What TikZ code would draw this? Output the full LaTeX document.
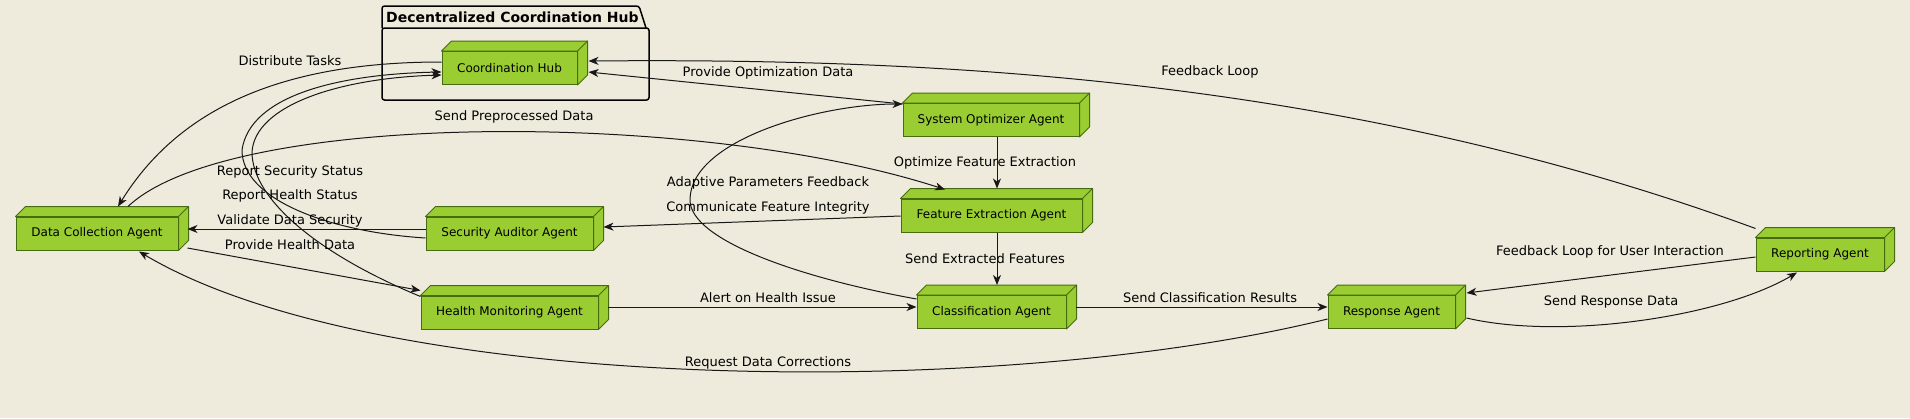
\documentclass[tikz,border=0pt]{standalone}
\usepackage{fontspec}
\setmainfont{DejaVu Sans}
\usetikzlibrary{arrows.meta,calc}
\definecolor{bgc}{HTML}{EEEBDC}
\definecolor{nodegreen}{HTML}{9ACD32}
\definecolor{nodeborder}{HTML}{476B10}
\definecolor{edgec}{HTML}{181818}
\tikzset{
  agent/.style={draw=nodeborder, fill=nodegreen, line width=1pt, minimum height=33pt,
    inner sep=0pt, font=\fontsize{12}{14}\selectfont},
  conn/.style={draw=edgec, line width=1pt, -{Stealth[length=10pt,width=8pt,inset=3pt]}},
  plainconn/.style={draw=edgec, line width=1pt},
  elabel/.style={font=\fontsize{13}{15}\selectfont, inner sep=0pt, text=black},
  pkg/.style={draw=black, line width=1.5pt, rounded corners=2.5pt}
}
\newcommand{\extrude}[1]{%
  \draw[draw=nodeborder, fill=nodegreen, line width=1pt, line join=round]
    (#1.north west) -- ++(10,-10) -- ([shift={(10,-10)}]#1.north east)
    -- ([shift={(10,-10)}]#1.south east) -- (#1.south east) -- (#1.north east) -- cycle;
  \draw[draw=nodeborder, line width=1pt] (#1.north east) -- ++(10,-10);
}
\begin{document}
\begin{tikzpicture}[x=1pt,y=-1pt]
\useasboundingbox (0,0) rectangle (1910,418);
\fill[bgc] (0,0) rectangle (1910,418);

% package
\draw[pkg] (382,28) -- (382,6) -- (639,6) -- (646,28);
\draw[pkg] (382,28) rectangle (649,100);
\node[anchor=west, font=\fontsize{14}{16}\selectfont\bfseries, inner sep=0pt] (pkgtitle) at (386,17) {Decentralized Coordination Hub};

% nodes
\node[agent, minimum width=135pt] (ch)  at (509.5,68)   {Coordination Hub};
\node[agent, minimum width=162pt] (dca) at (97,233.5)   {Data Collection Agent};
\node[agent, minimum width=167pt] (saa) at (509.5,233.5) {Security Auditor Agent};
\node[agent, minimum width=177pt] (hma) at (509.5,312.5) {Health Monitoring Agent};
\node[agent, minimum width=176pt] (soa) at (991,120)    {System Optimizer Agent};
\node[agent, minimum width=181pt] (fea) at (991.5,215.5) {Feature Extraction Agent};
\node[agent, minimum width=149pt] (ca)  at (991.5,312)  {Classification Agent};
\node[agent, minimum width=127pt] (ra)  at (1391.5,312) {Response Agent};
\node[agent, minimum width=128pt] (rpa) at (1820,254.5) {Reporting Agent};
\foreach \n in {ch,dca,saa,hma,soa,fea,ca,ra,rpa} {\extrude{\n}}

% connectors
\draw[conn] ([shift={(0,-6)}]ch.west) .. controls (300,62) and (185,98) .. ([shift={(21,-10)}]dca.north);
\draw[conn] ([shift={(31,-10)}]dca.north) .. controls (230,110) and (700,110) .. ([shift={(-46.5,-9)}]fea.north);
\draw[conn] ([shift={(0,4.5)}]saa.west) .. controls (330,232) and (242,200) .. (242,150)
   .. controls (250,95) and (340,74) .. ([shift={(0,4)}]ch.west);
\draw[conn] ([shift={(0,1)}]hma.north west) .. controls (320,255) and (252,200) .. (252,152)
   .. controls (255,105) and (340,78) .. ([shift={(0,7)}]ch.west);
\draw[conn] ([shift={(0,-4.5)}]saa.west) -- ([shift={(9,-4.5)}]dca.east);
\draw[conn] ([shift={(9,14.5)}]dca.east) -- ([shift={(0,-5)}]hma.north west);
\draw[conn] ([shift={(9,-5.5)}]hma.east) -- ([shift={(0,-5)}]ca.west);
\draw[conn] ([shift={(0,-16)}]soa.west) -- ([shift={(11,4)}]ch.east);
\draw[conn] ([shift={(6,0)}]soa.south) -- ([shift={(5.5,-10)}]fea.north);
\draw[conn] ([shift={(0,0.5)}]fea.west) -- ([shift={(10,-6.5)}]saa.east);
\draw[conn] ([shift={(5.5,0)}]fea.south) -- ([shift={(5.5,-10)}]ca.north);
\draw[conn] ([shift={(0,-13)}]ca.west) .. controls (800,278) and (690,240) .. (690,200)
   .. controls (690,140) and (820,104) .. ([shift={(0,-16)}]soa.west);
\draw[conn] ([shift={(9,-5)}]ca.east) -- ([shift={(0,-5)}]ra.west);
\draw[conn] ([shift={(0,7)}]ra.west) .. controls (1000,400) and (380,395) .. ([shift={(42,1)}]dca.south);
\draw[conn] ([shift={(11,6)}]ra.east) .. controls (1560,340) and (1720,318) .. ([shift={(-23,1)}]rpa.south);
\draw[conn] ([shift={(0,2.5)}]rpa.west) -- ([shift={(11,-19)}]ra.east);
\draw[conn] ([shift={(0,-9)}]rpa.north west) .. controls (1350,80) and (950,58) .. ([shift={(11,-7)}]ch.east);

% labels
\node[elabel] (l1) at (290,61) {Distribute Tasks};
\node[elabel] (l2) at (514,117) {Send Preprocessed Data};
\node[elabel] (l3) at (290,172) {Report Security Status};
\node[elabel] (l4) at (290,196) {Report Health Status};
\node[elabel] (l5) at (290,221) {Validate Data Security};
\node[elabel] (l6) at (290,245) {Provide Health Data};
\node[elabel] (l7) at (768,73) {Provide Optimization Data};
\node[elabel] (l8) at (1210,72) {Feedback Loop};
\node[elabel] (l9) at (985,163) {Optimize Feature Extraction};
\node[elabel] (l10) at (768,183) {Adaptive Parameters Feedback};
\node[elabel] (l11) at (768,208) {Communicate Feature Integrity};
\node[elabel] (l12) at (985,259) {Send Extracted Features};
\node[elabel] (l13) at (768,298) {Alert on Health Issue};
\node[elabel] (l14) at (1210,298) {Send Classification Results};
\node[elabel] (l15) at (768,363) {Request Data Corrections};
\node[elabel] (l16) at (1610,252) {Feedback Loop for User Interaction};
\node[elabel] (l17) at (1611,302) {Send Response Data};
\end{tikzpicture}
\end{document}
